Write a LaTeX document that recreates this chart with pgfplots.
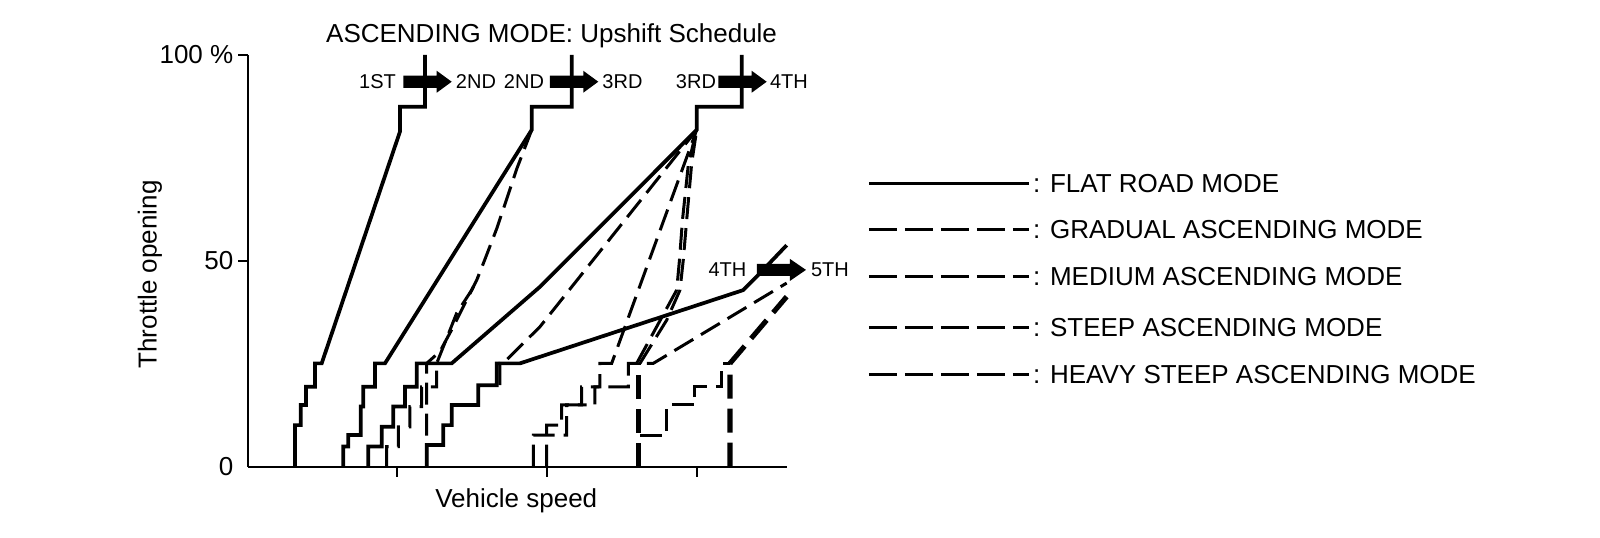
\documentclass[border=0pt]{standalone}
\usepackage{fontspec}
\setmainfont{Liberation Sans}
\usepackage{pgfplots}
\pgfplotsset{compat=1.18}
\pgfplotsset{
  flat/.style={black, line width=2.8pt, solid},
  mode/.style={black, line width=2.25pt, dash pattern=on 16.5pt off 6.75pt},
  heavy/.style={black, line width=3.8pt, dash pattern=on 18pt off 7.5pt},
}
\newcommand{\gearshift}[4]{\fill (axis cs:#1,{#4+1.46}) -- (axis cs:#2,{#4+1.46}) -- (axis cs:#2,{#4+2.67}) -- (axis cs:#3,#4) -- (axis cs:#2,{#4-2.67}) -- (axis cs:#2,{#4-1.46}) -- (axis cs:#1,{#4-1.46}) -- cycle;}
\newcommand{\bigfont}{\fontsize{19.5}{23}\selectfont}
\newcommand{\smallfont}{\fontsize{15}{18}\selectfont}
\begin{document}
\begin{tikzpicture}
\useasboundingbox (0pt,0pt) rectangle (1200pt,-402.75pt);
\begin{axis}[
  at={(186pt,-350.025pt)}, anchor=south west,
  scale only axis, width=404.0pt, height=308.8pt,
  xmin=248, xmax=786.7, ymin=0, ymax=100,
  axis lines=left, axis line style={-, line width=1.7pt},
  clip=false,
  xtick={397,547,697}, xticklabels={},
  ytick={50,100}, yticklabels={50,{100 \%}},
  extra y ticks={0}, extra y tick labels={0},
  extra y tick style={major tick style={draw=none}},
  tick align=outside, major tick length=7.5pt,
  tick style={line width=1.7pt, black},
  yticklabel style={font=\bigfont},
  /pgf/number format/assume math mode=true,
]
% ---- flat road mode (solid) ----
\addplot[flat] coordinates {(295,0) (295,10.1) (300.7,10.1) (300.7,15) (306,15) (306,19.4) (315,19.4) (315,25.1) (321.7,25.1) (400,81.4) (400,87.4) (425,87.4) (425,100)};
\addplot[flat] coordinates {(343.3,0) (343.3,4.9) (348.3,4.9) (348.3,7.7) (360.7,7.7) (360.7,14.6) (363.3,14.6) (363.3,19.4) (375,19.4) (375,25.1) (385,25.1) (531.7,81.8) (531.7,87.4) (571.7,87.4) (571.7,100)};
\addplot[flat] coordinates {(368.3,0) (368.3,4.9) (381.7,4.9) (381.7,9.7) (393.3,9.7) (393.3,14.6) (405,14.6) (405,19.4) (416.7,19.4) (416.7,25.1) (451.7,25.1) (540,43.7) (696.7,81.8) (696.7,87.4) (741.7,87.4) (741.7,100)};
\addplot[flat] coordinates {(426.7,0) (426.7,5.3) (443.3,5.3) (443.3,10.1) (451.7,10.1) (451.7,15) (478.3,15) (478.3,19.8) (496.7,19.8) (496.7,25.1) (520,25.1) (743.3,42.9) (760,47.0) (786.7,53.8)};
% ---- ascending modes (dashed) ----
\addplot[mode] coordinates {(386.7,0) (386.7,4.9) (398.3,4.9) (398.3,9.7) (410,9.7) (410,14.6) (421.7,14.6) (421.7,19.4) (436.7,19.4) (436.7,25.1) (456.7,37.3) (471.7,42.9) (478,46)};
\addplot[mode] coordinates {(426.7,0) (426.7,25.1) (440,28) (453.3,34) (466.7,40.5) (476.7,45.3) (485,50.4) (496.7,57.8) (506.7,65) (516.7,72.3) (531.7,81.8)};
\addplot[mode] coordinates {(500,19.8) (500,25.1) (503,25.1) (540,34.0) (696.7,81.8)};
\addplot[mode] coordinates {(546.7,0) (546.7,10.1) (561.7,10.1) (561.7,15) (581.7,15) (581.7,19.4) (600,19.4) (600,25.1) (611.7,25.1) (696.7,81.8)};
\addplot[mode] coordinates {(533.3,0) (533.3,7.7) (566.7,7.7) (566.7,15) (595,15) (595,19.4) (628.3,19.4) (628.3,25.1) (653.3,25.1) (786.7,44.6)};
\addplot[mode] coordinates {(640,25.1) (666.7,35.6) (680,42.9) (683.3,50.2) (686.7,59.9) (691.7,73.7) (696.7,81.8)};
\addplot[mode] coordinates {(636.7,25.1) (656.7,34) (676.7,42.9) (679.5,50.2) (682.5,59.9) (688.5,73.7) (696.7,81.8)};
\addplot[mode] coordinates {(640,7.7) (666.7,7.7) (666.7,15) (695,15) (695,19.4) (721.7,19.4) (721.7,25.1) (730,25.1)};
\addplot[heavy] coordinates {(638.3,0) (638.3,25.1)};
\addplot[heavy] coordinates {(730,0) (730,25.1) (786.7,41.3)};
% ---- gear-shift arrows and labels ----
\gearshift{403.3}{436.7}{451.7}{93.5}
\gearshift{550}{583.3}{598.3}{93.5}
\gearshift{718.3}{751.7}{766.7}{93.5}
\gearshift{757}{790}{806}{47.8}
\node[font=\smallfont] at (axis cs:377.5,93.5) {1ST};
\node[font=\smallfont] at (axis cs:476,93.5) {2ND};
\node[font=\smallfont] at (axis cs:524,93.5) {2ND};
\node[font=\smallfont] at (axis cs:622.5,93.5) {3RD};
\node[font=\smallfont] at (axis cs:696,93.5) {3RD};
\node[font=\smallfont] at (axis cs:789,93.5) {4TH};
\node[font=\smallfont] at (axis cs:727.5,47.8) {4TH};
\node[font=\smallfont] at (axis cs:830,47.8) {5TH};
% ---- titles ----
\node[font=\bigfont] at (axis cs:551.6,104.7) {ASCENDING MODE: Upshift Schedule};
\node[font=\bigfont, rotate=90] at (axis cs:150,46.7) {Throttle opening};
\node[font=\bigfont] at (axis cs:516.3,-8.3) {Vehicle speed};
% ---- legend ----
\draw[black, line width=2.3pt] (axis cs:869,68.7) -- (axis cs:1029,68.7);
\draw[black, line width=2.3pt, dash pattern=on 21pt off 6pt] (axis cs:869,57.6) -- (axis cs:1029,57.6);
\draw[black, line width=2.3pt, dash pattern=on 21pt off 6pt] (axis cs:869,46.2) -- (axis cs:1029,46.2);
\draw[black, line width=2.3pt, dash pattern=on 21pt off 6pt] (axis cs:869,33.8) -- (axis cs:1029,33.8);
\draw[black, line width=2.3pt, dash pattern=on 21pt off 6pt] (axis cs:869,22.4) -- (axis cs:1029,22.4);
\node[font=\bigfont, anchor=west, inner sep=0pt] at (axis cs:1033,68.7) {: FLAT ROAD MODE};
\node[font=\bigfont, anchor=west, inner sep=0pt] at (axis cs:1033,57.6) {: GRADUAL ASCENDING MODE};
\node[font=\bigfont, anchor=west, inner sep=0pt] at (axis cs:1033,46.2) {: MEDIUM ASCENDING MODE};
\node[font=\bigfont, anchor=west, inner sep=0pt] at (axis cs:1033,33.8) {: STEEP ASCENDING MODE};
\node[font=\bigfont, anchor=west, inner sep=0pt] at (axis cs:1033,22.4) {: HEAVY STEEP ASCENDING MODE};
\end{axis}
\end{tikzpicture}
\end{document}
